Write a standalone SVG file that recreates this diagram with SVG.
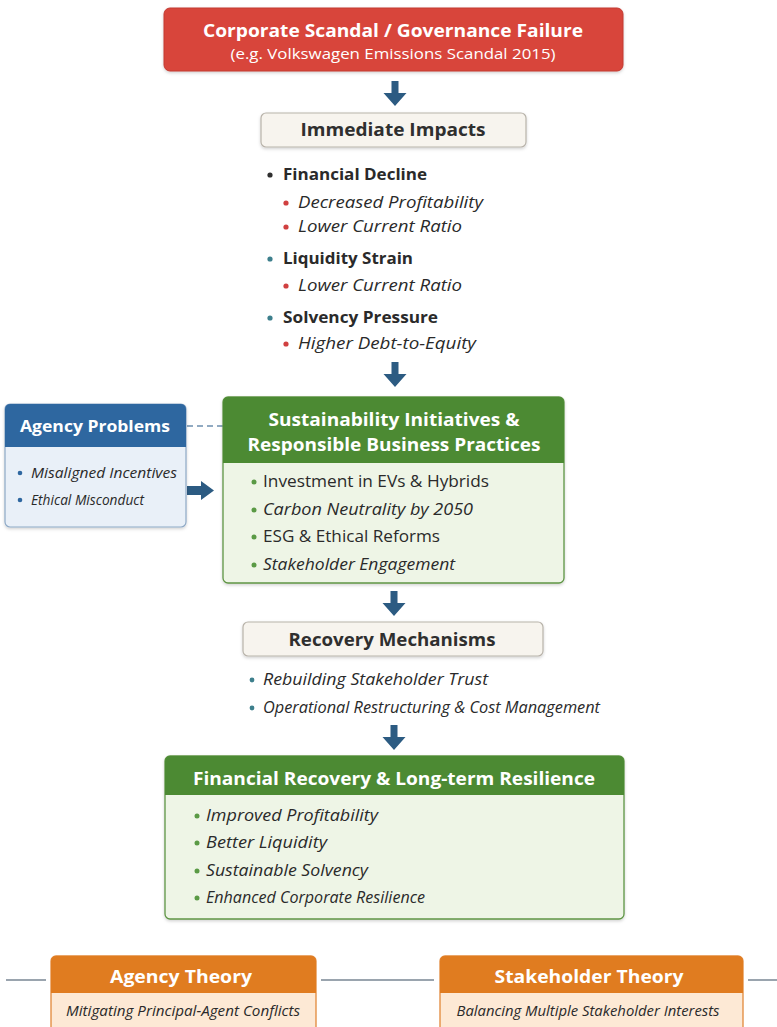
<svg xmlns="http://www.w3.org/2000/svg" width="777" height="1027" viewBox="0 0 777 1027">
  <style>
    text { font-family: "Open Sans", Lato, "Liberation Sans", sans-serif; }
    .hd { font-weight: bold; fill: #ffffff; text-anchor: middle; }
    .dk { font-weight: bold; fill: #2f2f2f; text-anchor: middle; }
    .it { font-style: italic; fill: #2a2a2a; }
    .rg { fill: #2a2a2a; }
    .bold { font-weight: bold; fill: #2a2a2a; }
    .arrow { fill: #2c5b82; }
    .conn { stroke: #9aa4ae; stroke-width: 2; fill: none; }
  </style>
  <defs>
    <filter id="shadow" x="-5%" y="-10%" width="110%" height="130%">
      <feDropShadow dx="0" dy="1.5" stdDeviation="1.5" flood-color="#000" flood-opacity="0.18"/>
    </filter>
    <path id="downArrow" d="M-3.5,0 H3.5 V12 H11.5 L0,25 L-11.5,12 H-3.5 Z"/>
  </defs>

  <rect width="777" height="1027" fill="#ffffff"/>

  <!-- connectors -->
  <g id="connectors">
    <use href="#downArrow" class="arrow" x="395" y="81"/>
    <use href="#downArrow" class="arrow" x="395" y="362"/>
    <use href="#downArrow" class="arrow" x="394" y="591"/>
    <use href="#downArrow" class="arrow" x="394" y="725"/>
    <!-- agency problems to sustainability -->
    <path class="arrow" d="M187,486 H201 V481 L214,490.5 L201,500 V495 H187 Z"/>
    <line x1="187" y1="426" x2="223" y2="426" stroke="#6e8fae" stroke-width="1.5" stroke-dasharray="6,4"/>
    <!-- theory band -->
    <line class="conn" x1="6" y1="980" x2="46" y2="980"/>
    <line class="conn" x1="321" y1="980" x2="434" y2="980"/>
    <line class="conn" x1="748" y1="980" x2="777" y2="980"/>
  </g>

  <!-- scandal -->
  <g id="scandal">
    <rect x="164" y="8" width="459" height="63" rx="6" fill="#d8443a" stroke="#c23a31" stroke-width="1" filter="url(#shadow)"/>
    <text class="hd" x="393" y="37" font-size="18" textLength="380" lengthAdjust="spacingAndGlyphs">Corporate Scandal / Governance Failure</text>
    <text x="393" y="59" font-size="15" fill="#ffffff" text-anchor="middle" textLength="325" lengthAdjust="spacingAndGlyphs">(e.g. Volkswagen Emissions Scandal 2015)</text>
  </g>

  <!-- immediate impacts -->
  <g id="impacts">
    <rect x="261" y="113" width="265" height="34" rx="5" fill="#f7f4ee" stroke="#b8b3aa" stroke-width="1.2" filter="url(#shadow)"/>
    <text class="dk" x="393" y="136" font-size="17" textLength="185" lengthAdjust="spacingAndGlyphs">Immediate Impacts</text>
    <circle cx="270" cy="175" r="2.6" fill="#2f2f2f"/>
    <text class="bold" x="283" y="180" font-size="16" textLength="144" lengthAdjust="spacingAndGlyphs">Financial Decline</text>
    <circle cx="286" cy="203" r="2.6" fill="#d04040"/>
    <text class="it" x="298" y="208" font-size="16" textLength="185" lengthAdjust="spacingAndGlyphs">Decreased Profitability</text>
    <circle cx="286" cy="227" r="2.6" fill="#d04040"/>
    <text class="it" x="298" y="232" font-size="16" textLength="164" lengthAdjust="spacingAndGlyphs">Lower Current Ratio</text>
    <circle cx="270" cy="259" r="2.6" fill="#3d7f8c"/>
    <text class="bold" x="283" y="264" font-size="16" textLength="130" lengthAdjust="spacingAndGlyphs">Liquidity Strain</text>
    <circle cx="286" cy="286" r="2.6" fill="#d04040"/>
    <text class="it" x="298" y="291" font-size="16" textLength="164" lengthAdjust="spacingAndGlyphs">Lower Current Ratio</text>
    <circle cx="270" cy="318" r="2.6" fill="#3d7f8c"/>
    <text class="bold" x="283" y="323" font-size="16" textLength="155" lengthAdjust="spacingAndGlyphs">Solvency Pressure</text>
    <circle cx="286" cy="344" r="2.6" fill="#d04040"/>
    <text class="it" x="298" y="349" font-size="16" textLength="178" lengthAdjust="spacingAndGlyphs">Higher Debt-to-Equity</text>
  </g>

  <!-- agency problems -->
  <g id="agency-problems">
    <rect x="5" y="404" width="181" height="123" rx="5" fill="#e9f0f8" stroke="#8ea9c6" stroke-width="1.2" filter="url(#shadow)"/>
    <path d="M5,447 V409 A5,5 0 0 1 10,404 H181 A5,5 0 0 1 186,409 V447 Z" fill="#2e67a0"/>
    <text class="hd" x="95" y="432" font-size="16" textLength="150" lengthAdjust="spacingAndGlyphs">Agency Problems</text>
    <circle cx="20" cy="473" r="2.3" fill="#2e67a0"/>
    <text class="it" x="31" y="478" font-size="14.5" textLength="146" lengthAdjust="spacingAndGlyphs">Misaligned Incentives</text>
    <circle cx="20" cy="500" r="2.3" fill="#2e67a0"/>
    <text class="it" x="31" y="505" font-size="15" textLength="113" lengthAdjust="spacingAndGlyphs">Ethical Misconduct</text>
  </g>

  <!-- sustainability -->
  <g id="sustainability">
    <rect x="223" y="397" width="341" height="186" rx="5" fill="#eef5e6" stroke="#5f9545" stroke-width="1.3" filter="url(#shadow)"/>
    <path d="M223,463 V402 A5,5 0 0 1 228,397 H559 A5,5 0 0 1 564,402 V463 Z" fill="#4c8a33"/>
    <text class="hd" x="394" y="426" font-size="18" textLength="251" lengthAdjust="spacingAndGlyphs">Sustainability Initiatives &amp;</text>
    <text class="hd" x="394" y="451" font-size="18" textLength="293" lengthAdjust="spacingAndGlyphs">Responsible Business Practices</text>
    <circle cx="254" cy="482" r="2.5" fill="#5a9a45"/>
    <text class="rg" x="263" y="487" font-size="16" textLength="226" lengthAdjust="spacingAndGlyphs">Investment in EVs &amp; Hybrids</text>
    <circle cx="254" cy="510" r="2.5" fill="#5a9a45"/>
    <text class="it" x="263" y="515" font-size="16" textLength="210" lengthAdjust="spacingAndGlyphs">Carbon Neutrality by 2050</text>
    <circle cx="254" cy="537" r="2.5" fill="#5a9a45"/>
    <text class="rg" x="263" y="542" font-size="16" textLength="177" lengthAdjust="spacingAndGlyphs">ESG &amp; Ethical Reforms</text>
    <circle cx="254" cy="565" r="2.5" fill="#5a9a45"/>
    <text class="it" x="263" y="570" font-size="16" textLength="192" lengthAdjust="spacingAndGlyphs">Stakeholder Engagement</text>
  </g>

  <!-- recovery mechanisms -->
  <g id="recovery-mechanisms">
    <rect x="243" y="622" width="300" height="34" rx="5" fill="#f7f4ee" stroke="#b8b3aa" stroke-width="1.2" filter="url(#shadow)"/>
    <text class="dk" x="392" y="646" font-size="17" textLength="207" lengthAdjust="spacingAndGlyphs">Recovery Mechanisms</text>
    <circle cx="252" cy="680" r="2.4" fill="#3d7f8c"/>
    <text class="it" x="263" y="685" font-size="16" textLength="225" lengthAdjust="spacingAndGlyphs">Rebuilding Stakeholder Trust</text>
    <circle cx="252" cy="708" r="2.4" fill="#3d7f8c"/>
    <text class="it" x="263" y="713" font-size="15.5" textLength="337" lengthAdjust="spacingAndGlyphs">Operational Restructuring &amp; Cost Management</text>
  </g>

  <!-- financial recovery -->
  <g id="financial-recovery">
    <rect x="165" y="756" width="459" height="163" rx="5" fill="#eef5e6" stroke="#5f9545" stroke-width="1.3" filter="url(#shadow)"/>
    <path d="M165,795 V761 A5,5 0 0 1 170,756 H619 A5,5 0 0 1 624,761 V795 Z" fill="#4c8a33"/>
    <text class="hd" x="394" y="785" font-size="18" textLength="402" lengthAdjust="spacingAndGlyphs">Financial Recovery &amp; Long-term Resilience</text>
    <circle cx="197" cy="816" r="2.5" fill="#5a9a45"/>
    <text class="it" x="206" y="821" font-size="16" textLength="172" lengthAdjust="spacingAndGlyphs">Improved Profitability</text>
    <circle cx="197" cy="843" r="2.5" fill="#5a9a45"/>
    <text class="it" x="206" y="848" font-size="16" textLength="121" lengthAdjust="spacingAndGlyphs">Better Liquidity</text>
    <circle cx="197" cy="871" r="2.5" fill="#5a9a45"/>
    <text class="it" x="206" y="876" font-size="16" textLength="162" lengthAdjust="spacingAndGlyphs">Sustainable Solvency</text>
    <circle cx="197" cy="898" r="2.5" fill="#5a9a45"/>
    <text class="it" x="206" y="903" font-size="16" textLength="219" lengthAdjust="spacingAndGlyphs">Enhanced Corporate Resilience</text>
  </g>

  <!-- agency theory -->
  <g id="agency-theory">
    <rect x="51" y="956" width="265" height="90" rx="5" fill="#fde9d5" stroke="#e2893a" stroke-width="1.3"/>
    <path d="M51,993 V961 A5,5 0 0 1 56,956 H311 A5,5 0 0 1 316,961 V993 Z" fill="#e07c20"/>
    <text class="hd" x="181" y="983" font-size="17" textLength="142" lengthAdjust="spacingAndGlyphs">Agency Theory</text>
    <text class="it" x="183" y="1016" font-size="14.5" text-anchor="middle" textLength="234" lengthAdjust="spacingAndGlyphs">Mitigating Principal-Agent Conflicts</text>
  </g>

  <!-- stakeholder theory -->
  <g id="stakeholder-theory">
    <rect x="440" y="956" width="303" height="90" rx="5" fill="#fde9d5" stroke="#e2893a" stroke-width="1.3"/>
    <path d="M440,993 V961 A5,5 0 0 1 445,956 H738 A5,5 0 0 1 743,961 V993 Z" fill="#e07c20"/>
    <text class="hd" x="589" y="983" font-size="17" textLength="189" lengthAdjust="spacingAndGlyphs">Stakeholder Theory</text>
    <text class="it" x="588" y="1016" font-size="14.5" text-anchor="middle" textLength="263" lengthAdjust="spacingAndGlyphs">Balancing Multiple Stakeholder Interests</text>
  </g>
</svg>
